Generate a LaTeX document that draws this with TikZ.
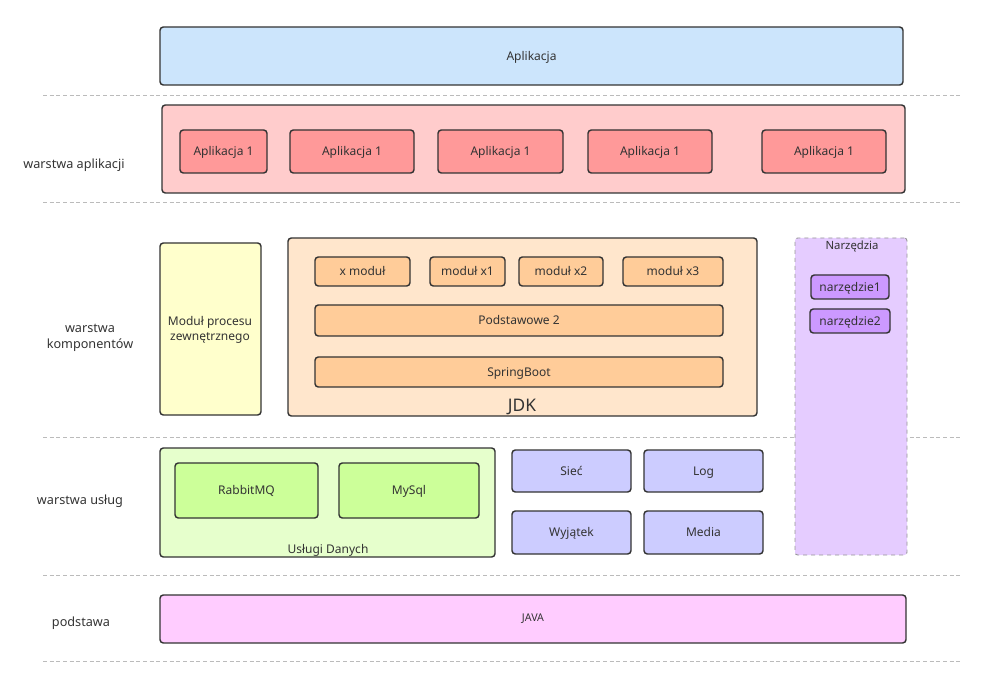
\documentclass[tikz,border=0pt]{standalone}
\usepackage{fontspec}
\setmainfont{Noto Sans}
\usetikzlibrary{fit}
\definecolor{txt}{HTML}{333333}
\definecolor{edge}{HTML}{333333}
\definecolor{sep}{HTML}{BBBBBB}
\definecolor{cBlue}{HTML}{CCE5FC}
\definecolor{cPinkL}{HTML}{FFCCCC}
\definecolor{cPinkD}{HTML}{FF9999}
\definecolor{cYel}{HTML}{FFFFCC}
\definecolor{cOrL}{HTML}{FFE6CC}
\definecolor{cOrD}{HTML}{FFCC99}
\definecolor{cVioL}{HTML}{E5CCFF}
\definecolor{cVioD}{HTML}{CC99FF}
\definecolor{cGrL}{HTML}{E6FFCC}
\definecolor{cGrD}{HTML}{CCFF99}
\definecolor{cLav}{HTML}{CCCCFF}
\definecolor{cMag}{HTML}{FFCCFF}
\begin{document}
\begin{tikzpicture}[x=0.75pt,y=-0.75pt,
  font=\fontsize{9}{11}\selectfont, text=txt,
  box/.style={draw=edge, line width=1.1pt, rounded corners=2.5pt, inner sep=0pt},
  tx/.style={label={[align=center, text=txt, inner sep=0pt, text height=6.5pt, text depth=1.5pt, yshift=-0.8pt]center:#1}},
  dbox/.style={draw=sep!80!black, dashed, line width=0.7pt, rounded corners=2pt, inner sep=0pt},
  sepline/.style={draw=sep, line width=0.7pt, dash pattern=on 3pt off 2pt},
  lab/.style={font=\fontsize{9.5}{12}\selectfont, align=center}]
\useasboundingbox (0,0) rectangle (1000,695);
% separators
\coordinate (s1a) at (43,95);  \coordinate (s1b) at (960,95);
\coordinate (s2a) at (43,202); \coordinate (s2b) at (960,202);
\coordinate (s3a) at (43,437); \coordinate (s3b) at (960,437);
\coordinate (s4a) at (43,575); \coordinate (s4b) at (960,575);
\coordinate (s5a) at (43,661); \coordinate (s5b) at (960,661);
\foreach \i in {1,...,5} \draw[sepline] (s\i a) -- (s\i b);
% top
\node[box, fill=cBlue, fit={(160,27) (903,85)}, tx={Aplikacja}] (app) {};
% app layer
\node[lab] (l1) at (74,165) {warstwa aplikacji};
\node[box, fill=cPinkL, fit={(162,105) (905,193)}] (applayer) {};
\node[box, fill=cPinkD, fit={(180,130) (267,173)}, tx={Aplikacja 1}] (a1) {};
\node[box, fill=cPinkD, fit={(290,130) (414,173)}, tx={Aplikacja 1}] (a2) {};
\node[box, fill=cPinkD, fit={(438,130) (563,173)}, tx={Aplikacja 1}] (a3) {};
\node[box, fill=cPinkD, fit={(588,130) (712,173)}, tx={Aplikacja 1}] (a4) {};
\node[box, fill=cPinkD, fit={(762,130) (886,173)}, tx={Aplikacja 1}] (a5) {};
% component layer
\node[lab] (l2) at (90,338) {warstwa\\komponentów};
\node[box, fill=cYel, fit={(160,243) (261,415)}] (ext) {};
\node[align=center] (extt) at (210,330) {Moduł procesu\\zewnętrznego};
\node[box, fill=cOrL, fit={(288,238) (757,416)}] (jdk) {};
\node[font=\fontsize{13}{15}\selectfont] (jdkt) at (522,407) {JDK};
\node[box, fill=cOrD, fit={(315,257) (410,286)}, tx={x moduł}] (m0) {};
\node[box, fill=cOrD, fit={(430,257) (505,286)}, tx={moduł x1}] (m1) {};
\node[box, fill=cOrD, fit={(519,257) (603,286)}, tx={moduł x2}] (m2) {};
\node[box, fill=cOrD, fit={(623,257) (723,286)}, tx={moduł x3}] (m3) {};
\node[box, fill=cOrD, fit={(315,305) (723,336)}, tx={Podstawowe 2}] (pod) {};
\node[box, fill=cOrD, fit={(315,357) (723,387)}, tx={SpringBoot}] (spr) {};
% tools
\node[dbox, fill=cVioL, fit={(795,238) (907,555)}] (tools) {};
\node[font=\fontsize{8.5}{10}\selectfont] (toolst) at (852,246) {Narzędzia};
\node[box, fill=cVioD, fit={(811,275) (889,299)}, tx={narzędzie1}] (t1) {};
\node[box, fill=cVioD, fit={(810,309) (890,333)}, tx={narzędzie2}] (t2) {};
% service layer
\node[lab] (l3) at (80,501) {warstwa usług};
\node[box, fill=cGrL, fit={(160,448) (495,557)}] (data) {};
\node (datat) at (328,550) {Usługi Danych};
\node[box, fill=cGrD, fit={(175,463) (318,518)}, tx={RabbitMQ}] (rmq) {};
\node[box, fill=cGrD, fit={(339,463) (479,518)}, tx={MySql}] (sql) {};
\node[box, fill=cLav, fit={(512,450) (631,492)}, tx={Sieć}] (net) {};
\node[box, fill=cLav, fit={(644,450) (763,492)}, tx={Log}] (log) {};
\node[box, fill=cLav, fit={(512,511) (631,554)}, tx={Wyjątek}] (exc) {};
\node[box, fill=cLav, fit={(644,511) (763,554)}, tx={Media}] (med) {};
% base
\node[lab] (l4) at (81,623) {podstawa};
\node[box, fill=cMag, fit={(160,595) (906,643)}] (java) {};
\node[font=\fontsize{8}{10}\selectfont] (javat) at (533,619) {JAVA};
\end{tikzpicture}
\end{document}
